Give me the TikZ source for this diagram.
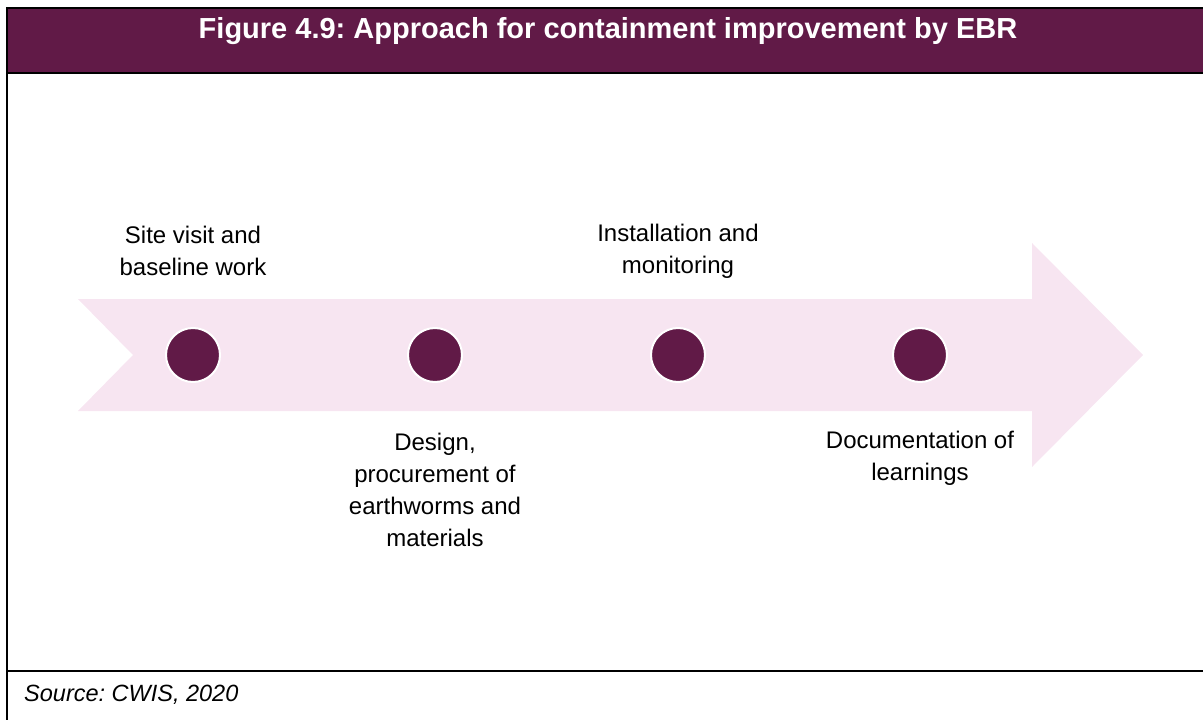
\documentclass[tikz,border=0pt]{standalone}
\usepackage{fontspec}
\setmainfont{Liberation Sans}
\definecolor{ebrplum}{HTML}{611A47}
\definecolor{ebrpink}{HTML}{F7E5F1}
\tikzset{
  stage/.style={circle,fill=ebrplum,draw=white,line width=2pt,minimum size=54pt,inner sep=0pt},
  lbl/.style={align=center,inner sep=0pt,font=\fontsize{24}{32}\selectfont}
}
\frenchspacing

\begin{document}
\begin{tikzpicture}[x=1pt,y=-1pt]
                \useasboundingbox (0,0) rectangle (1203,720);
                \fill[ebrplum] (7,8) rectangle (1203,73);
                \fill[ebrpink] (78,299) -- (1032,299) -- (1032,243) -- (1143,355) -- (1032,467) -- (1032,411) -- (78,411) -- (133,355) -- cycle;
                \draw[line width=2pt] (1203,8) -- (7,8) -- (7,720); \draw[line width=2pt] (7,73) -- (1203,73); \draw[line width=2pt] (7,671) -- (1203,671);

                \node[text=white,font=\fontsize{29}{32}\selectfont\bfseries] (title) at (608,31) {Figure 4.9: Approach for containment improvement by EBR};
                \node[anchor=west,inner sep=0pt,font=\fontsize{23.5}{26}\selectfont\itshape] (src) at (24,695) {Source: CWIS, 2020};

                \node[stage] (s1) at (193,355) {};
                \node[stage] (s2) at (435,355) {};
                \node[stage] (s3) at (678,355) {};
                \node[stage] (s4) at (920,355) {};

                \node[lbl] (t1) at (193,251) {Site visit and\\baseline work};
                \node[lbl] (t2) at (435,490) {Design,\\procurement of\\earthworms and\\materials};
                \node[lbl] (t3) at (678,251) {Installation and\\monitoring};
                \node[lbl] (t4) at (920,458) {Documentation of\\learnings};
            \end{tikzpicture}
\end{document}
